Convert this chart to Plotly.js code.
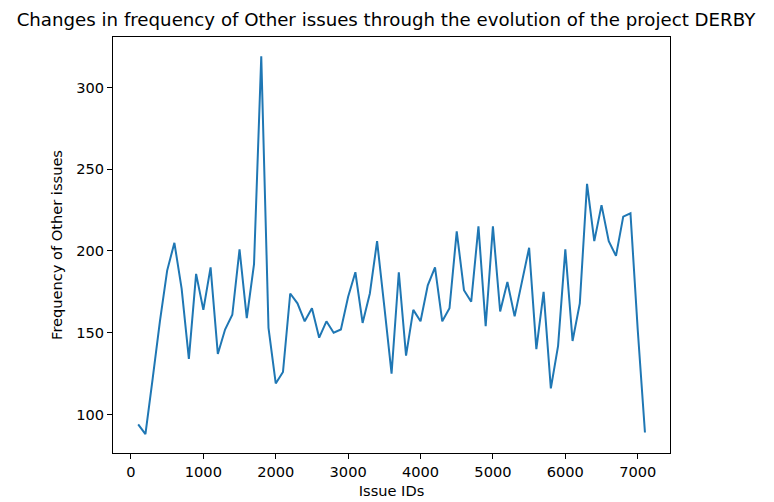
<!DOCTYPE html>
<html>
<head>
<meta charset="utf-8">
<script src="https://cdn.plot.ly/plotly-3.0.1.min.js"></script>
<style>html,body{margin:0;padding:0;background:#fff;}#chart{width:774px;height:502px;}</style>
</head>
<body>
<div id="chart"></div>
<script>
const issueIds = [100,200,300,400,500,600,700,800,900,1000,
  1100,1200,1300,1400,1500,1600,1700,1800,1900,2000,
  2100,2200,2300,2400,2500,2600,2700,2800,2900,3000,
  3100,3200,3300,3400,3500,3600,3700,3800,3900,4000,
  4100,4200,4300,4400,4500,4600,4700,4800,4900,5000,
  5100,5200,5300,5400,5500,5600,5700,5800,5900,6000,
  6100,6200,6300,6400,6500,6600,6700,6800,6900,7000,7100];
const frequency = [94,88,122,157,188,205,177,134,186,164,
  190,137,152,161,201,159,192,319,153,119,
  126,174,168,157,165,147,157,150,152,172,
  187,156,174,206,166,125,187,136,164,157,
  179,190,157,165,212,176,169,215,154,215,
  163,181,160,181,202,140,175,116,142,201,
  145,168,241,206,228,206,197,221,223,152,89];
const xTicks = [0,1000,2000,3000,4000,5000,6000,7000];
const yTicks = [100,150,200,250,300];

const font = {family: 'DejaVu Sans', size: 14.6, color: '#000'};
Plotly.newPlot('chart', [{
  x: issueIds, y: frequency, type: 'scatter', mode: 'lines',
  line: {color: '#1f77b4', width: 2}
}], {
  width: 774, height: 502,
  margin: {l: 113, r: 104, t: 37, b: 49},
  paper_bgcolor: '#fff', plot_bgcolor: '#fff',
  font: font,
  showlegend: false,
  title: {text: 'Changes in frequency of Other issues through the evolution of the project DERBY',
    font: {family: 'DejaVu Sans', size: 18.2, color: '#000'},
    x: 386 / 774, xanchor: 'center', xref: 'container',
    y: 1 - 20 / 502, yanchor: 'middle', yref: 'container'},
  xaxis: {range: [-248, 7446], tickvals: xTicks, ticktext: xTicks.map(String),
    ticks: 'outside', ticklen: 5, tickwidth: 1, tickcolor: '#000',
    showline: true, linecolor: '#000', linewidth: 1, mirror: true,
    showgrid: false, zeroline: false, tickfont: font,
    title: {text: 'Issue IDs', font: font, standoff: 7}},
  yaxis: {range: [76.5, 330.8], tickvals: yTicks, ticktext: yTicks.map(String),
    ticks: 'outside', ticklen: 5, tickwidth: 1, tickcolor: '#000',
    showline: true, linecolor: '#000', linewidth: 1, mirror: true,
    showgrid: false, zeroline: false, tickfont: font,
    title: {text: 'Frequency of Other issues', font: font, standoff: 10}}
}, {staticPlot: true});
</script>
</body>
</html>
